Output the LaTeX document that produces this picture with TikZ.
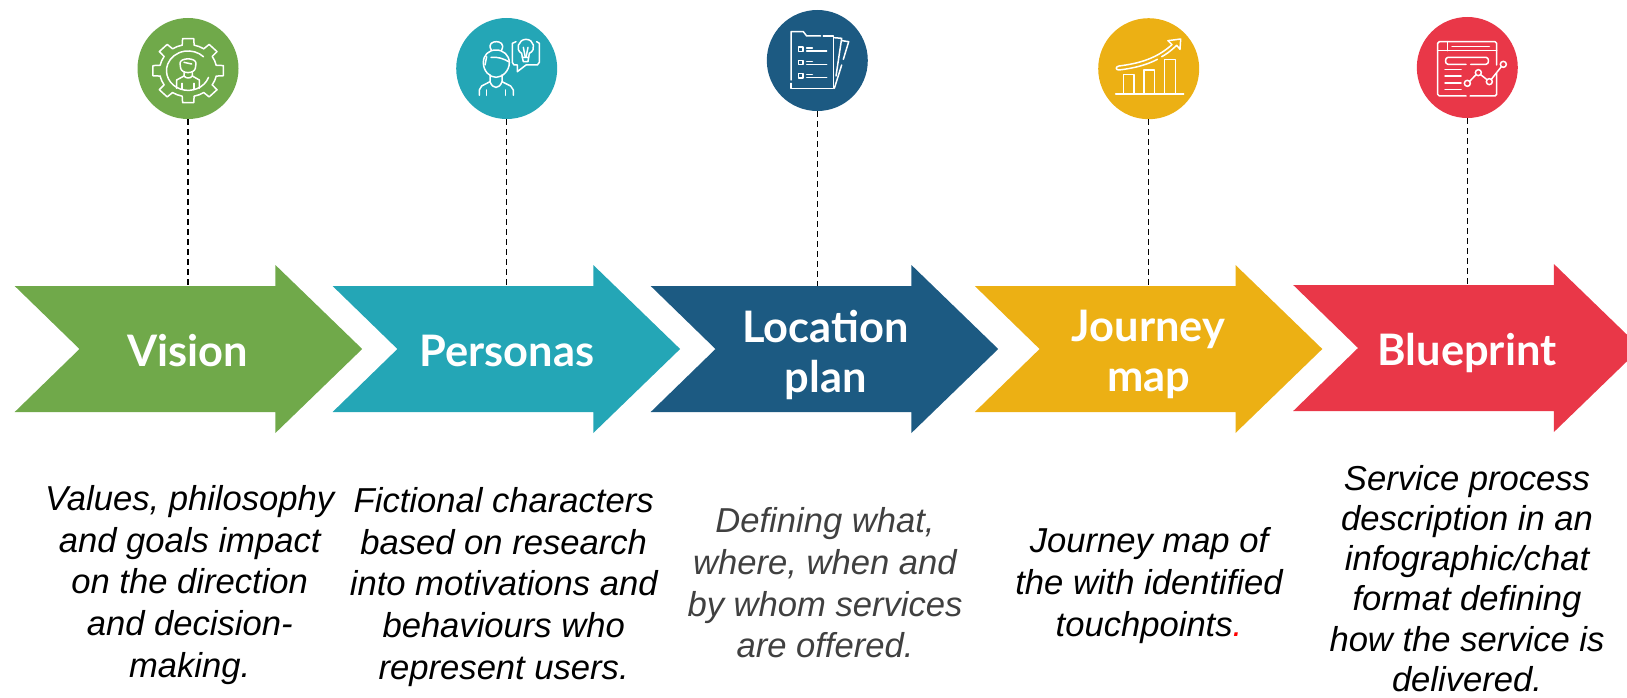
\documentclass[tikz,border=0pt]{standalone}
\usepackage{fontspec}
\setmainfont{Liberation Sans}
\newfontfamily\latofont{Lato}
\usepackage{xcolor}
\definecolor{visiongreen}{HTML}{70A94A}
\definecolor{personateal}{HTML}{24A6B6}
\definecolor{plannavy}{HTML}{1C5A82}
\definecolor{journeyyellow}{HTML}{ECB014}
\definecolor{printred}{HTML}{E93748}
\definecolor{descgrey}{HTML}{404040}
\tikzset{
    chevron/.pic = {\fill[pic actions] (0,-63) -- (260.7,-63) -- (260.7,-84) -- (347.5,0) -- (260.7,84) -- (260.7,63) -- (0,63) -- (64.8,0) -- cycle;},
    badge/.style = {circle, minimum size=101pt, inner sep=0pt},
    title/.style = {text=white, align=center, font=\latofont\bfseries\fontsize{43.4}{50}\selectfont, inner sep=0pt},
    desc/.style = {align=center, font=\itshape\fontsize{34.6}{41.6}\selectfont, inner sep=0pt},
    link/.style = {black, line width=1.5pt, dash pattern=on 6pt off 4pt},
    icon/.style = {white, line width=1.5pt, line cap=round, line join=round}
}
\newcommand{\geartooth}[1]{\draw[rotate=#1] (-12:86) -- (-9:107) -- (9:107) -- (12:86) arc[start angle=12, end angle=33, radius=86];}

\begin{document}
\begin{tikzpicture}[x=1pt, y=-1pt]
\path[use as bounding box, clip] (0,0) rectangle (1627,698);

\pic[fill=visiongreen] at (14.7,349) {chevron};
\pic[fill=personateal] at (332.6,349) {chevron};
\pic[fill=plannavy] at (650.7,349) {chevron};
\pic[fill=journeyyellow] at (974.8,349) {chevron};
\pic[fill=printred] at (1293.2,348) {chevron};

\node (visionbadge) [badge, fill=visiongreen] at (188,68.5) {};
\node (personabadge) [badge, fill=personateal] at (506.7,68.5) {};
\node (planbadge) [badge, fill=plannavy] at (817.3,60.5) {};
\node (journeybadge) [badge, fill=journeyyellow] at (1148.7,68.7) {};
\node (printbadge) [badge, fill=printred] at (1467.3,67.5) {};

\coordinate (visionend) at (188,286);
\coordinate (personaend) at (506.7,286);
\coordinate (planend) at (817.3,286);
\coordinate (journeyend) at (1148.7,286);
\coordinate (printend) at (1467.3,285);

\draw [link] (visionbadge) -- (visionend);
\draw [link] (personabadge) -- (personaend);
\draw [link] (planbadge) -- (planend);
\draw [link] (journeybadge) -- (journeyend);
\draw [link] (printbadge) -- (printend);

\node (vision) [title, anchor=base] at (187.5,366) {Vision};
\node (personas) [title, anchor=base] at (506.7,366) {Personas};
\node (plan) [title] at (825.6,354.5) {Location\\plan};
\node (journey) [title] at (1148.5,354.5) {Journey\\map};
\node (blueprint) [title, anchor=base] at (1467,365) {Blueprint};

\node (visiondesc) [desc] at (189.7,585) {Values, philosophy\\and goals impact\\on the direction\\and decision-\\making.};
\node (personadesc) [desc] at (503.7,587) {Fictional characters\\based on research\\into motivations and\\behaviours who\\represent users.};
\node (plandesc) [desc, text=descgrey] at (825,583) {Defining what,\\where, when and\\by whom services\\are offered.};
\node (journeydesc) [desc] at (1149,585.5) {Journey map of\\the with identified\\touchpoints{\color{red}.}};
\node (printdesc) [desc, font=\itshape\fontsize{34.6}{40.1}\selectfont] at (1467,578.5) {Service process\\description in an\\infographic/chat\\format defining\\how the service is\\delivered.};

% gear and person
\begin{scope}[icon, shift={(110,0)}, scale=1/3]
\begin{scope}[shift={(234.5,212)}, yscale=.91]
\geartooth{0} \geartooth{45} \geartooth{90} \geartooth{135}
\geartooth{180} \geartooth{225} \geartooth{270} \geartooth{315}
\draw (20:65) arc[start angle=20, end angle=315, radius=65];
\end{scope}
\draw (210,190) .. controls (210,172) and (258,172) .. (258,190) -- (256,205) .. controls (252,222) and (216,222) .. (212,205) -- cycle;
\draw (222,187) -- (245,192);
\draw (222,218) -- (222,228) -- (200,240) -- (200,265);
\draw (247,218) -- (247,228) -- (268,240) -- (268,265);
\draw (222,228) .. controls (228,236) and (241,236) .. (247,228);
\draw (216,250) -- (216,268);
\draw (252,250) -- (252,268);
\end{scope}

% woman and idea
\begin{scope}[icon, shift={(110,0)}, scale=1/3]
\draw (1158,150) .. controls (1180,150) and (1198,165) .. (1198,188) .. controls (1198,212) and (1178,232) .. (1158,232) .. controls (1138,232) and (1120,212) .. (1120,188) .. controls (1120,165) and (1136,150) .. (1158,150);
\draw (1144,150) .. controls (1132,130) and (1150,125) .. (1159,125) .. controls (1168,125) and (1186,130) .. (1174,152);
\draw (1143,172) .. controls (1160,170) and (1180,175) .. (1198,186);
\draw (1130,170) -- (1125,195);
\draw (1140,225) -- (1140,245) -- (1115,258) -- (1108,270) -- (1108,286);
\draw (1176,225) -- (1176,245) -- (1202,258) -- (1210,270) -- (1210,286);
\draw (1140,245) .. controls (1148,268) and (1168,268) .. (1176,245);
\draw (1130,270) -- (1130,286);
\draw (1187,270) -- (1187,286);
\draw (1218,125) -- (1207,130) -- (1207,187) -- (1212,195) -- (1222,195) -- (1222,215) -- (1248,195) -- (1282,195) -- (1288,187) -- (1288,130) -- (1280,125);
\draw (1237,172) -- (1235,160) .. controls (1215,150) and (1225,118) .. (1248,118) .. controls (1272,118) and (1280,150) .. (1258,160) -- (1256,172);
\draw (1237,172) -- (1256,172) -- (1254,185) -- (1240,185) -- cycle;
\draw (1240,142) -- (1246,172);
\draw (1254,142) -- (1248,172);
\end{scope}

% document pile
\begin{scope}[icon, shift={(740,0)}, scale=1/3]
\draw (153,240) -- (153,95) -- (190,95) -- (200,108) -- (242,108);
\draw (250,108) -- (280,108) -- (280,265) -- (153,265) -- (153,250);
\draw (176,141) rectangle (189,154);
\draw (176,181) rectangle (189,194);
\draw (176,221) rectangle (189,234);
\draw (200,144) -- (217,144);
\draw (200,153) -- (260,153);
\draw (200,184) -- (217,184);
\draw (200,193) -- (260,193);
\draw (200,224) -- (217,224);
\draw (200,233) -- (260,233);
\draw (283,113) -- (305,115) -- (288,228);
\draw (306,122) -- (326,125) -- (310,178);
\draw (305,195) -- (283,265);
\end{scope}

% rising chart
\begin{scope}[icon, shift={(1080,10)}, scale=1/3]
\draw (107,252) -- (311,252);
\draw (130,250) -- (130,193) -- (162,193) -- (162,250);
\draw (192,250) -- (192,180) -- (224,180) -- (224,250);
\draw (254,250) -- (254,149) -- (287,149) -- (287,250);
\draw (264,92) -- (302,87) -- (300,118) -- (290,106) .. controls (270,125) and (255,135) .. (245,140);
\draw (264,92) -- (276,104) .. controls (230,145) and (180,160) .. (117,168) .. controls (106,170) and (106,180) .. (117,180) .. controls (160,175) and (200,165) .. (232,148);
\end{scope}

% service chart
\begin{scope}[icon, shift={(1080,10)}, scale=1/3]
\draw (1158,258) -- (1078,258) -- (1073,253) -- (1073,100) -- (1078,95) -- (1245,95) -- (1250,100) -- (1250,165);
\draw (1250,190) -- (1250,253) -- (1245,258) -- (1170,258);
\draw (1073,122) -- (1250,122);
\draw (1102,95) -- (1102,122);
\draw (1116,109) -- (1228,109);
\draw (1158,163) -- (1104,163) .. controls (1094,163) and (1094,142) .. (1104,142) -- (1218,142) .. controls (1228,142) and (1228,163) .. (1218,163) -- (1172,163);
\draw (1095,178) -- (1143,178);
\draw (1095,198) -- (1143,198);
\draw (1095,219) -- (1143,219);
\draw (1095,239) -- (1143,239);
\draw (1162,220) circle[radius=9];
\draw (1195,188) circle[radius=9];
\draw (1228,215) circle[radius=9];
\draw (1270,163) circle[radius=9];
\draw (1169,214) -- (1188,194);
\draw (1202,194) -- (1221,209);
\draw (1234,208) -- (1264,170);
\end{scope}
\end{tikzpicture}
\end{document}
